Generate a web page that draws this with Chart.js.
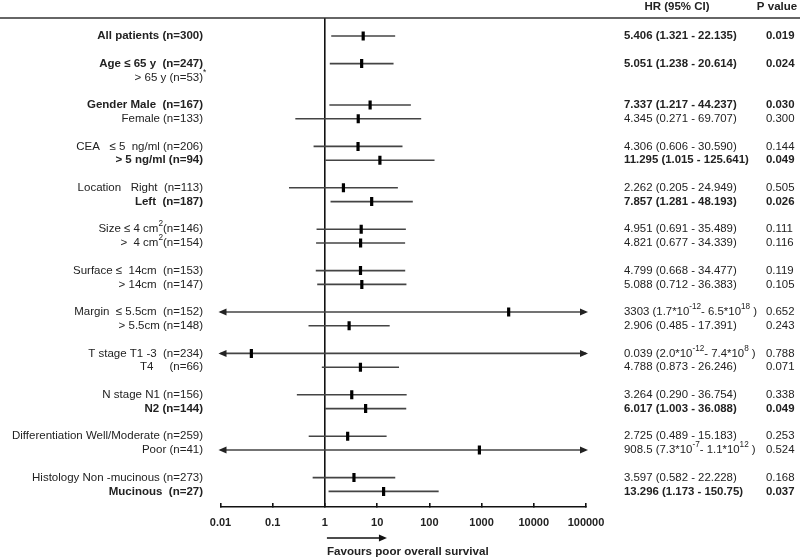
<!DOCTYPE html>
<html><head><meta charset="utf-8">
<script src="https://cdn.jsdelivr.net/npm/chart.js@4"></script>
<style>html,body{margin:0;padding:0;background:#fff}#wrap{width:800px;height:559px;position:relative}</style>
</head><body><div id="wrap"><canvas id="c"></canvas></div>
<script>
// ---- data ----
const labels = [
  "All patients (n=300)",
  "Age \u2264 65 y  (n=247)", "> 65 y (n=53)^{*}",
  "Gender Male  (n=167)", "Female (n=133)",
  "CEA   \u2264 5  ng/ml (n=206)", "> 5 ng/ml (n=94)",
  "Location   Right  (n=113)", "Left  (n=187)",
  "Size \u2264 4 cm^{2}(n=146)", ">  4 cm^{2}(n=154)",
  "Surface \u2264  14cm  (n=153)", "> 14cm  (n=147)",
  "Margin  \u2264 5.5cm  (n=152)", "> 5.5cm (n=148)",
  "T stage T1 -3  (n=234)", "T4     (n=66)",
  "N stage N1 (n=156)", "N2 (n=144)",
  "Differentiation Well/Moderate (n=259)", "Poor (n=41)",
  "Histology Non -mucinous (n=273)", "Mucinous  (n=27)"
];
const group = [0,1,1,2,2,3,3,4,4,5,5,6,6,7,7,8,8,9,9,10,10,11,11];
const boldRow = [true,true,false,true,false,false,true,false,true,false,false,false,false,false,false,false,false,false,true,false,false,false,true];
const hr = [5.406,5.051,null,7.337,4.345,4.306,11.295,2.262,7.857,4.951,4.821,4.799,5.088,3303,2.906,0.039,4.788,3.264,6.017,2.725,908.5,3.597,13.296];
const lo = [1.321,1.238,null,1.217,0.271,0.606,1.015,0.205,1.281,0.691,0.677,0.668,0.712,1.7e-12,0.485,2.0e-12,0.873,0.290,1.003,0.489,7.3e-7,0.582,1.173];
const hi = [22.135,20.614,null,44.237,69.707,30.590,125.641,24.949,48.193,35.489,34.339,34.477,36.383,6.5e18,17.391,7.4e8,26.246,36.754,36.088,15.183,1.1e12,22.228,150.75];
const hrText = [
  "5.406 (1.321 - 22.135)", "5.051 (1.238 - 20.614)", "",
  "7.337 (1.217 - 44.237)", "4.345 (0.271 - 69.707)",
  "4.306 (0.606 - 30.590)", "11.295 (1.015 - 125.641)",
  "2.262 (0.205 - 24.949)", "7.857 (1.281 - 48.193)",
  "4.951 (0.691 - 35.489)", "4.821 (0.677 - 34.339)",
  "4.799 (0.668 - 34.477)", "5.088 (0.712 - 36.383)",
  "3303 (1.7*10^{-12}- 6.5*10^{18} )", "2.906 (0.485 - 17.391)",
  "0.039 (2.0*10^{-12}- 7.4*10^{8} )", "4.788 (0.873 - 26.246)",
  "3.264 (0.290 - 36.754)", "6.017 (1.003 - 36.088)",
  "2.725 (0.489 - 15.183)", "908.5 (7.3*10^{-7}- 1.1*10^{12} )",
  "3.597 (0.582 - 22.228)", "13.296 (1.173 - 150.75)"
];
const pText = ["0.019","0.024","","0.030","0.300","0.144","0.049","0.505","0.026","0.111","0.116","0.119","0.105","0.652","0.243","0.788","0.071","0.338","0.049","0.253","0.524","0.168","0.037"];
const tickValues = [0.01,0.1,1,10,100,1000,10000,100000];
const tickLabels = ["0.01","0.1","1","10","100","1000","10000","100000"];
const headerHR = "HR (95% CI)";
const headerP = "P value";
const favoursLabel = "Favours poor overall survival";

// ---- derived ----
const pos = labels.map((_, i) => i + group[i]);
const xMin = tickValues[0], xMax = tickValues[tickValues.length - 1];
const FAM = 'Arial, "Liberation Sans", Helvetica, sans-serif';
const TXT = '#222';

function drawRich(ctx, str, x, y, align, size, bold, color) {
  const parts = []; const re = /\^\{([^}]*)\}/g; let last = 0, m;
  while ((m = re.exec(str))) {
    if (m.index > last) parts.push({t: str.slice(last, m.index), sup: false});
    parts.push({t: m[1], sup: true}); last = re.lastIndex;
  }
  if (last < str.length) parts.push({t: str.slice(last), sup: false});
  const fnt = sup => (bold ? 'bold ' : '') + (sup ? size * 0.72 : size) + 'px ' + FAM;
  let w = 0;
  parts.forEach((p, k) => { ctx.font = fnt(p.sup); p.w = ctx.measureText(p.t).width;
    if (!(p.sup && k === parts.length - 1)) w += p.w; });
  let cx = align === 'right' ? x - w : align === 'center' ? x - w / 2 : x;
  ctx.textBaseline = 'middle'; ctx.textAlign = 'left'; ctx.fillStyle = color || TXT;
  parts.forEach(p => { ctx.font = fnt(p.sup); ctx.fillText(p.t, cx, p.sup ? y - 5 : y); cx += p.w; });
}

function arrowHead(ctx, x, y, dir) {
  ctx.beginPath();
  ctx.moveTo(x, y);
  ctx.lineTo(x - dir * 8, y - 3.5);
  ctx.lineTo(x - dir * 8, y + 3.5);
  ctx.closePath(); ctx.fill();
}

const forestPlugin = {
  id: 'forest',
  afterDraw(chart) {
    const ctx = chart.ctx, xs = chart.scales.x, ys = chart.scales.y;
    ctx.save();
    ctx.strokeStyle = '#333'; ctx.lineWidth = 1.5;
    ctx.beginPath(); ctx.moveTo(0, chart.chartArea.top); ctx.lineTo(800, chart.chartArea.top); ctx.stroke();
    drawRich(ctx, headerHR, 677, 7, 'center', 11.5, true);
    drawRich(ctx, headerP, 777, 7, 'center', 11.5, true);
    labels.forEach((lab, i) => {
      const y = ys.getPixelForValue(pos[i]);
      drawRich(ctx, lab, 203, y, 'right', 11.5, boldRow[i]);
      if (hrText[i]) drawRich(ctx, hrText[i], 624, y, 'left', 11.4, boldRow[i]);
      if (pText[i]) drawRich(ctx, pText[i], 766, y, 'left', 11.4, boldRow[i]);
      if (hr[i] != null) {
        ctx.fillStyle = '#222';
        if (lo[i] < xMin) arrowHead(ctx, xs.getPixelForValue(xMin) - 2, y, -1);
        if (hi[i] > xMax) arrowHead(ctx, xs.getPixelForValue(xMax) + 2, y, 1);
      }
    });
    const x1 = xs.getPixelForValue(1) + 2, ay = 538;
    ctx.strokeStyle = '#111'; ctx.fillStyle = '#111'; ctx.lineWidth = 1.5;
    ctx.beginPath(); ctx.moveTo(x1, ay); ctx.lineTo(x1 + 54, ay); ctx.stroke();
    arrowHead(ctx, x1 + 60, ay, 1);
    drawRich(ctx, favoursLabel, x1, 552, 'left', 11.6, true);
    ctx.restore();
  }
};

const ciDatasets = labels.map((_, i) => hr[i] == null ? null : ({
  type: 'scatter', showLine: true,
  data: [{x: Math.max(lo[i], xMin), y: pos[i]}, {x: Math.min(hi[i], xMax), y: pos[i]}],
  borderColor: '#444', borderWidth: 1.6, pointRadius: 0, pointHoverRadius: 0, clip: false, order: 2
})).filter(Boolean);

const pointDataset = {
  type: 'scatter',
  data: labels.map((_, i) => hr[i] == null ? null : {x: hr[i], y: pos[i]}).filter(Boolean),
  pointStyle: 'line', rotation: 90, pointRadius: 4.5, borderWidth: 3.2,
  borderColor: '#000', backgroundColor: '#000', order: 1
};

new Chart(document.getElementById('c'), {
  type: 'scatter',
  data: { datasets: [...ciDatasets, pointDataset] },
  options: {
    responsive: true, maintainAspectRatio: false, animation: false, devicePixelRatio: 1,
    layout: { padding: { left: 220.5, right: 214, top: 18, bottom: 0 } },
    plugins: { legend: { display: false }, tooltip: { enabled: false } },
    scales: {
      x: {
        type: 'logarithmic', min: xMin, max: xMax,
        afterBuildTicks: s => { s.ticks = tickValues.map(v => ({ value: v })); },
        afterFit: s => { s.height = 52; },
        ticks: { callback: (v, i) => tickLabels[i], autoSkip: false, maxRotation: 0, padding: 13,
                 color: TXT, font: { family: FAM, size: 11, weight: 'bold' } },
        grid: { color: c => (c.tick && c.tick.value === 1) ? '#111' : 'rgba(0,0,0,0)',
                tickColor: '#111', lineWidth: 1.6, tickLength: -4, drawOnChartArea: true },
        border: { display: true, color: '#111', width: 1.6 }
      },
      y: { type: 'linear', min: -1.304, max: 34.13, reverse: true, display: false }
    }
  },
  plugins: [forestPlugin]
});
</script>
</body></html>
